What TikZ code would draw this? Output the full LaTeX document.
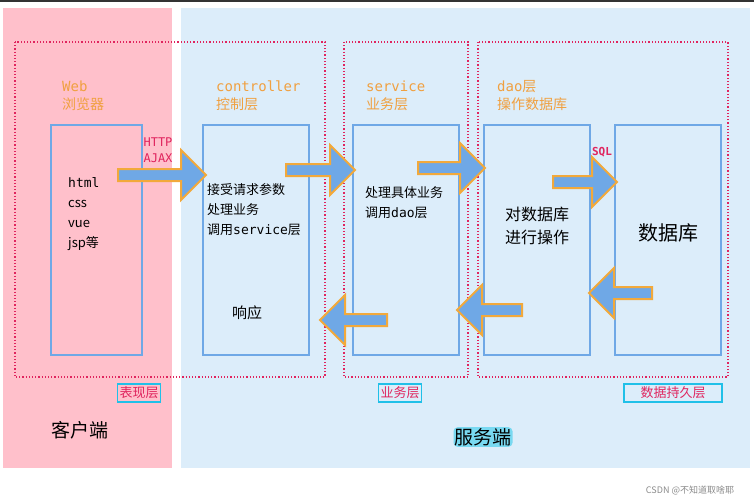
\documentclass[tikz,border=0pt]{standalone}
\usepackage{fontspec}
\setmainfont{Noto Sans CJK SC}
\setmonofont{DejaVu Sans Mono}
\usetikzlibrary{shapes.arrows}
\definecolor{pinkbg}{HTML}{FFC0CB}
\definecolor{bluebg}{HTML}{DCEDFA}
\definecolor{boxblue}{HTML}{6FA8E6}
\definecolor{arrowor}{HTML}{F2A93B}
\definecolor{labelor}{HTML}{F0A040}
\definecolor{dotred}{HTML}{E0245E}
\definecolor{tagcyan}{HTML}{20C0E8}
\tikzset{
  layer/.style = {draw=boxblue, line width=2.5pt},
  group/.style = {draw=dotred, line width=1.2pt, dotted},
  title/.style = {text=labelor, font=\fontsize{14}{18}\selectfont, align=left, anchor=west, inner sep=0pt},
  body/.style = {font=\fontsize{13}{20}\selectfont, align=left, anchor=west, inner sep=0pt},
  tag/.style = {draw=tagcyan, line width=1.2pt, text=dotred, font=\fontsize{13}{15}\selectfont, inner sep=2pt, minimum height=18pt},
  flow/.style = {single arrow, draw=arrowor, fill=boxblue, line width=2pt, inner sep=5pt,
    single arrow head extend=19pt, minimum height=#1},
  back/.style = {flow=#1, shape border rotate=180},
}
\begin{document}
\begin{tikzpicture}[x=1pt, y=-1pt]
\useasboundingbox (0,0) rectangle (754,500);
\fill[white] (0,0) rectangle (754,500);
\fill[black!80] (0,0) rectangle (754,2);

% client / server backgrounds
\fill[pinkbg] (3,8) rectangle (172,468);
\fill[bluebg] (181,8) rectangle (750,468);

% dotted groups
\draw[group] (15,42) rectangle (325,377);
\draw[group] (344,42) rectangle (468,377);
\draw[group] (478,42) rectangle (728,377);

% layer boxes
\draw[layer] (51,125) rectangle (142,355);
\draw[layer] (203,125) rectangle (309,355);
\draw[layer] (353,125) rectangle (459,355);
\draw[layer] (484,125) rectangle (590,355);
\draw[layer] (615,125) rectangle (721,355);

% titles
\node[title] (web) at (62,96) {\ttfamily Web\\浏览器};
\node[title] (ctrl) at (216,96) {\ttfamily controller\\控制层};
\node[title] (srv) at (366,96) {\ttfamily service\\业务层};
\node[title] (dao) at (497,96) {{\ttfamily dao}层\\操作数据库};

% contents
\node[body] (front) at (68,214) {\ttfamily html\\css\\vue\\jsp{\rmfamily 等}};
\node[body] (ctrltxt) at (207,210) {接受请求参数\\处理业务\\调用{\ttfamily service}层};
\node[body, font=\fontsize{15}{18}\selectfont] (resp) at (232,313) {响应};
\node[body] (srvtxt) at (365,203) {处理具体业务\\调用{\ttfamily dao}层};
\node[body, align=center, anchor=center, font=\fontsize{16}{23}\selectfont] (daotxt) at (537,226) {对数据库\\进行操作};
\node[inner sep=0pt, font=\fontsize{20}{24}\selectfont] (dbtxt) at (668,233) {数据库};

% flow arrows
\node[flow=88pt] (a1) at (159,175) {};
\node[flow=69pt] (a2) at (317.5,170) {};
\node[flow=67pt] (a3) at (448.5,168) {};
\node[flow=64pt] (a4) at (582,182) {};
\node[back=63pt] (a5) at (623.5,293) {};
\node[back=65pt] (a6) at (492.5,310) {};
\node[back=67pt] (a7) at (356.5,320) {};
\node[text=dotred, font=\ttfamily\fontsize{12}{16}\selectfont, align=left, inner sep=0pt] (http) at (158,150) {HTTP\\AJAX};
\node[text=dotred, font=\ttfamily\bfseries\fontsize{11}{13}\selectfont, inner sep=0pt] (sql) at (602,152) {SQL};

% layer tags
\node[tag] (t1) at (139,393) {表现层};
\node[tag] (t2) at (400,393) {业务层};
\node[tag, minimum width=98pt] (t3) at (673,393) {数据持久层};

% sides
\node[font=\fontsize{19}{22}\selectfont] (client) at (80,430) {客户端};
\node[fill=tagcyan!60, rounded corners=4pt, inner sep=1pt, font=\fontsize{19}{22}\selectfont] (server) at (483,437) {服务端};
\node[text=black!45, font=\fontsize{9}{11}\selectfont] (mark) at (690,490) {CSDN @不知道取啥耶};
\end{tikzpicture}
\end{document}
